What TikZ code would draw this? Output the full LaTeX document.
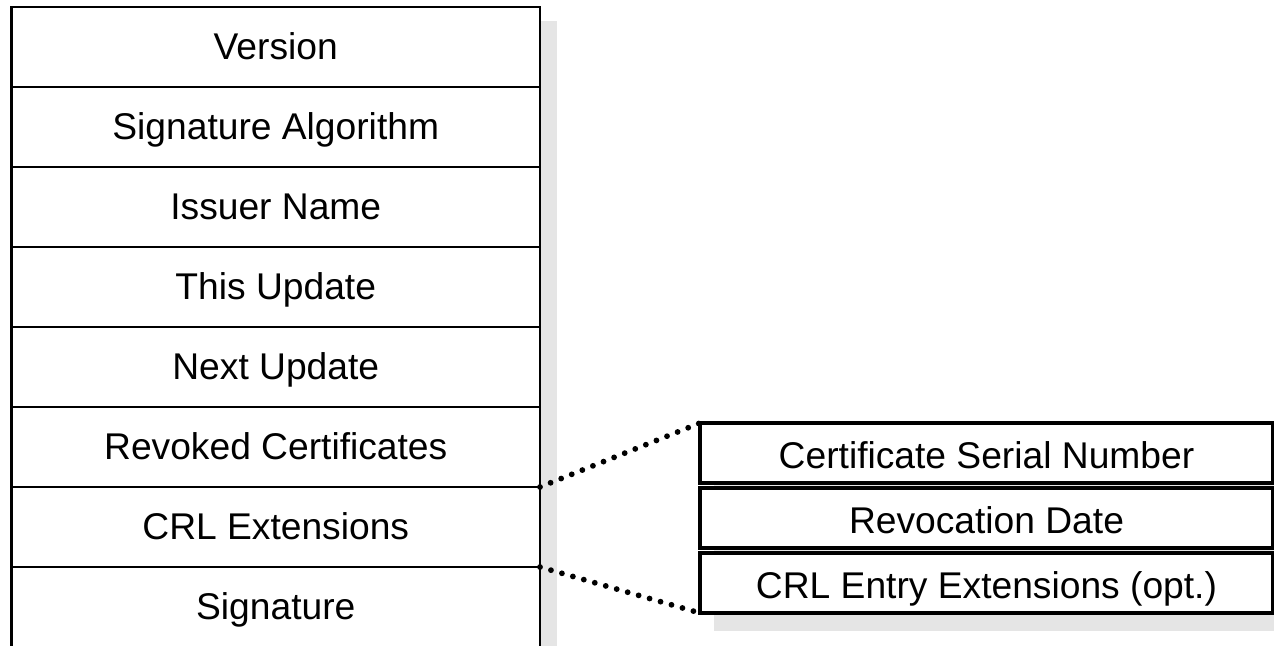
\documentclass[tikz,border=0pt]{standalone}
\usepackage{fontspec}
\setmainfont{Liberation Sans}
\usepackage{tikz}
\usetikzlibrary{positioning,shadows}
\definecolor{CRLshadow}{HTML}{e5e5e5}

\begin{document}
\begin{tikzpicture}[
    node distance=0pt,
    field/.style={draw,fill=white,outer sep=0pt,inner sep=0pt,line width=1.3pt,
      minimum width=264.25pt,minimum height=40pt,align=center,
      text height=13.4pt,text depth=1.4pt,
      font=\fontsize{18.6}{22}\selectfont,
      drop shadow={shadow xshift=8.5pt,shadow yshift=-7pt,fill=CRLshadow,opacity=1}},
    entry/.style={field,line width=1.6pt,minimum width=286.5pt,minimum height=30pt,
      text height=18.5pt,text depth=3pt,
      drop shadow={shadow xshift=7pt,shadow yshift=-9pt,fill=CRLshadow,opacity=1}},
    dots/.style={line width=2.9pt,line cap=round,dash pattern=on 0pt off 5.7pt}
  ]
    \useasboundingbox (0,0) rectangle (637pt,-322.5pt);

    % CRL FIELDS
    \node[field,anchor=north west] (ver) at (5.75pt,-3.5pt) {Version};
    \node[field,below=of ver] (sigalg) {Signature Algorithm};
    \node[field,below=of sigalg] (issuer) {Issuer Name};
    \node[field,below=of issuer] (this) {This Update};
    \node[field,below=of this] (next) {Next Update};
    \node[field,below=of next] (revoked) {Revoked Certificates};
    \node[field,below=of revoked] (crlext) {CRL Extensions};
    \node[field,below=of crlext] (sig) {Signature};

    % REVOKED ENTRY
    \node[entry,anchor=north west] (serial) at (350pt,-211.5pt) {Certificate Serial Number};
    \node[entry,below=2.5pt of serial] (date) {Revocation Date};
    \node[entry,below=2.5pt of date] (entryext) {CRL Entry Extensions (opt.)};

    % Dotted zoom lines
    \draw[dots] (revoked.south east) -- (serial.north west);
    \draw[dots] (crlext.south east) -- (entryext.south west);
  \end{tikzpicture}
\end{document}
